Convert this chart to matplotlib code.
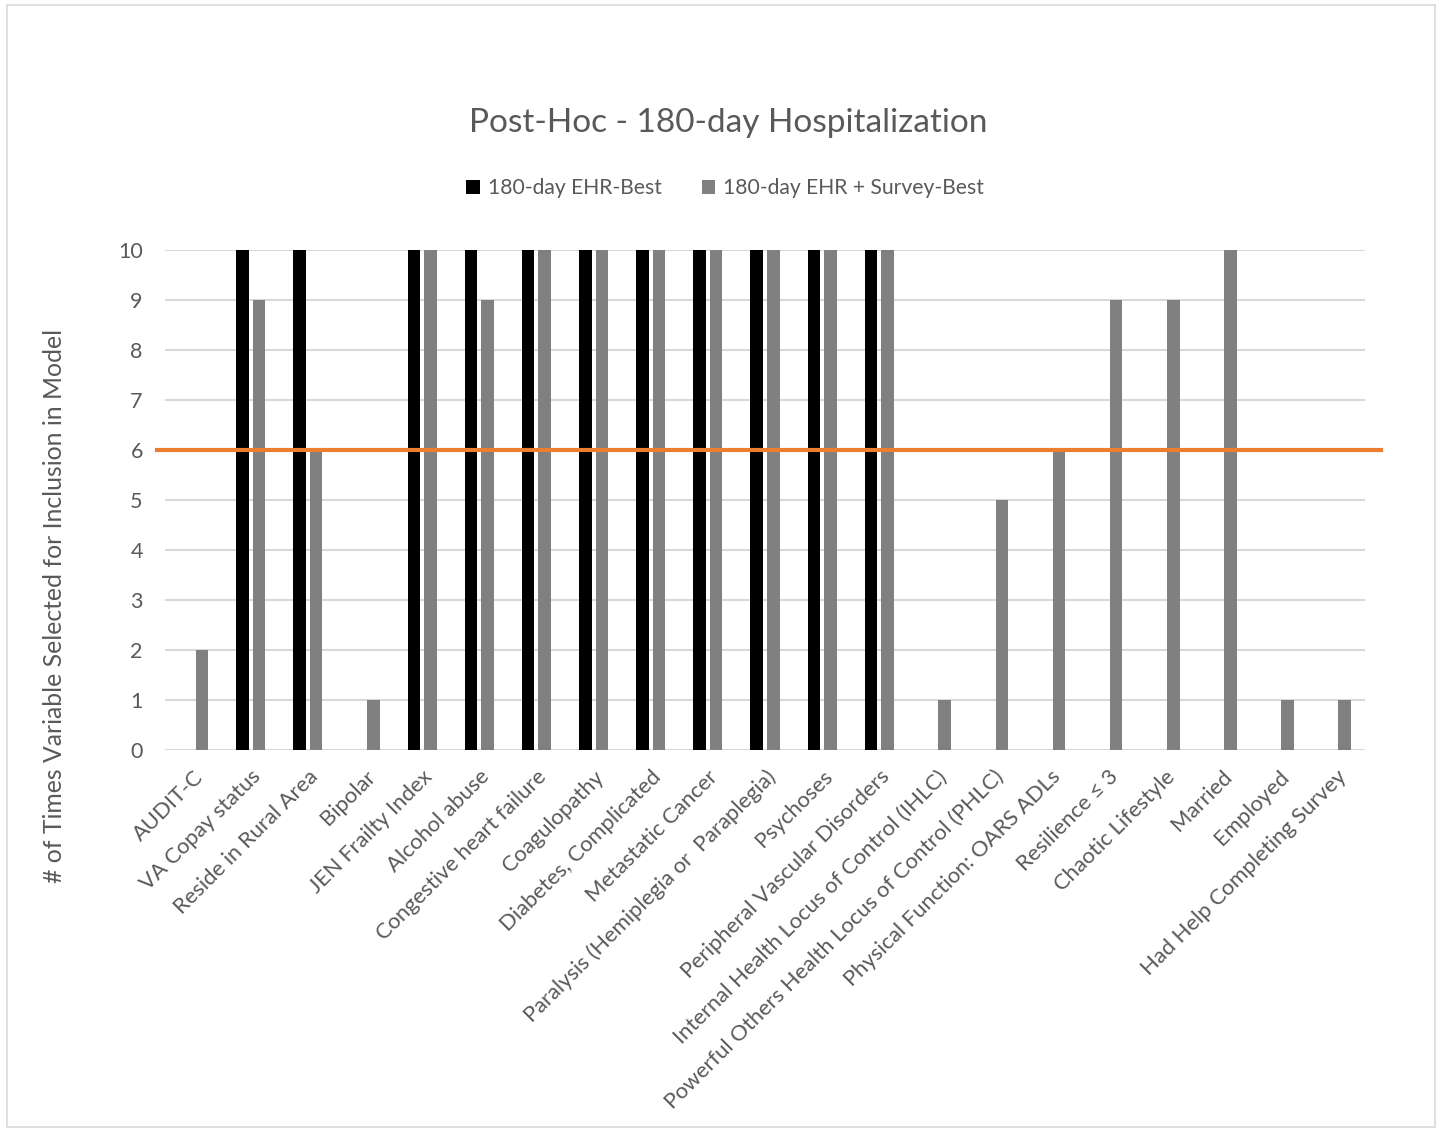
import matplotlib
matplotlib.use("Agg")
import matplotlib.pyplot as plt
from matplotlib.patches import Rectangle
import numpy as np

plt.rcParams['font.family'] = ['Lato', 'DejaVu Sans']

categories = [
    "AUDIT-C", "VA Copay status", "Reside in Rural Area", "Bipolar",
    "JEN Frailty Index", "Alcohol abuse", "Congestive heart failure",
    "Coagulopathy", "Diabetes, Complicated", "Metastatic Cancer",
    "Paralysis (Hemiplegia or  Paraplegia)", "Psychoses",
    "Peripheral Vascular Disorders", "Internal Health Locus of Control (IHLC)",
    "Powerful Others Health Locus of Control (PHLC)",
    "Physical Function: OARS ADLs", "Resilience \u2264 3", "Chaotic Lifestyle",
    "Married", "Employed", "Had Help Completing Survey",
]
ehr_best = [0, 10, 10, 0, 10, 10, 10, 10, 10, 10, 10, 10, 10, 0, 0, 0, 0, 0, 0, 0, 0]
ehr_survey_best = [2, 9, 6, 1, 10, 9, 10, 10, 10, 10, 10, 10, 10, 1, 5, 6, 9, 9, 10, 1, 1]
threshold = 6
yticks = list(range(0, 11))

TEXT = "#595959"
W, H = 1440, 1132
fig = plt.figure(figsize=(W / 100, H / 100), dpi=100)

# outer chart frame
fig.patches.append(Rectangle((7 / W, 1 - 1127 / H), (1435 - 7) / W, (1127 - 5) / H,
                             transform=fig.transFigure, fill=False,
                             edgecolor="#d9d9d9", linewidth=1.2))

left, right, top, bottom = 165, 1365, 250, 750
ax = fig.add_axes([left / W, 1 - bottom / H, (right - left) / W, (bottom - top) / H])

x = np.arange(len(categories))
bw = 0.219
off = 0.1445
ax.bar(x - off, ehr_best, bw, color="#000000", zorder=3, label="180-day EHR-Best")
ax.bar(x + off, ehr_survey_best, bw, color="#808080", zorder=3,
       label="180-day EHR + Survey-Best")

ax.set_xlim(-0.5, len(categories) - 0.5)
ax.set_ylim(0, 10)
ax.set_yticks(yticks)
ax.yaxis.grid(True, color="#d9d9d9", linewidth=1.5, zorder=0)
ax.set_axisbelow(True)
for s in ax.spines.values():
    s.set_visible(False)
ax.tick_params(axis="both", length=0, labelcolor=TEXT)
ax.tick_params(axis="y", pad=16, labelsize=15.5)

ax.set_xticks(x)
ax.set_xticklabels(categories, rotation=45, ha="right", va="top",
                   rotation_mode="anchor")
ax.tick_params(axis="x", pad=12, labelsize=15.8)

# threshold line reaching slightly past the plot area
span = right - left
ax.axhline(threshold, xmin=(157 - left) / span, xmax=(1381 - left) / span,
           color="#ED7D31", linewidth=3.0, zorder=4, clip_on=False)

ax.set_ylabel("# of Times Variable Selected for Inclusion in Model",
              fontsize=17.8, color=TEXT)
ax.yaxis.set_label_coords((66 - left) / span, (bottom - 606) / (bottom - top))

fig.text(728 / W, 1 - 123 / H, "Post-Hoc - 180-day Hospitalization",
         ha="center", va="center", fontsize=24, color=TEXT)

leg = fig.legend(loc="center", bbox_to_anchor=(725 / W, 1 - 188 / H), ncol=2,
                 frameon=False, fontsize=15.2, handlelength=0.65, handleheight=0.65,
                 handletextpad=0.35, columnspacing=1.9)
for t in leg.get_texts():
    t.set_color(TEXT)

fig.savefig("out.png", dpi=100)
